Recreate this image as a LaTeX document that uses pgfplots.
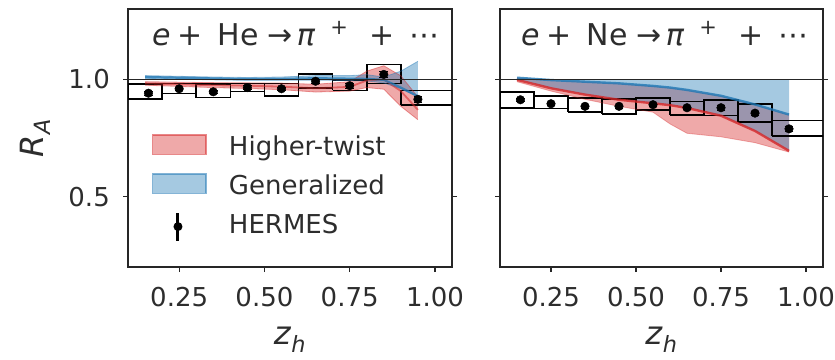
\documentclass[border=0pt]{standalone}
\usepackage{fontspec}
\setmainfont{DejaVu Sans}
\usepackage{pgfplots}
\usepackage{pgfplotstable}
\pgfplotsset{compat=1.18}
\usepgfplotslibrary{fillbetween}
\definecolor{tabblue}{RGB}{31,119,180}
\definecolor{tabred}{RGB}{214,39,40}
\definecolor{txt}{RGB}{45,45,45}

% HERMES points: z, R_A, stat error
\pgfplotstableread{
z y e
0.16 0.941 0.008
0.25 0.960 0.008
0.35 0.947 0.008
0.45 0.965 0.008
0.55 0.960 0.008
0.65 0.992 0.009
0.75 0.973 0.010
0.85 1.021 0.012
0.95 0.915 0.014
}\heData
\pgfplotstableread{
z y e
0.16 0.913 0.006
0.25 0.896 0.006
0.35 0.885 0.006
0.45 0.885 0.006
0.55 0.892 0.007
0.65 0.879 0.008
0.75 0.879 0.009
0.85 0.856 0.010
0.95 0.789 0.012
}\neData
% He bands: generalized (bu, bl, bc), higher-twist (ru, rl, rc)
\pgfplotstableread{
z bu bl bc ru rl rc
0.15 1.016 1.004 1.010 0.990 0.975 0.983
0.25 1.013 1.001 1.007 0.988 0.970 0.979
0.35 1.010 0.998 1.004 0.986 0.965 0.975
0.45 1.008 0.996 1.001 0.985 0.961 0.973
0.55 1.010 0.996 1.002 0.984 0.956 0.969
0.65 1.016 0.997 1.005 0.979 0.946 0.962
0.75 1.016 0.995 1.003 0.990 0.950 0.968
0.80 1.020 0.993 1.002 1.035 0.965 0.995
0.85 1.010 0.985 0.998 1.058 0.958 1.000
0.90 1.035 0.960 0.965 1.015 0.885 0.950
0.95 1.077 0.925 0.928 0.925 0.828 0.870
}\heBand
% Ne bands
\pgfplotstableread{
z bt bl rl rlo
0.15 1.007 1.007 0.998 0.990
0.25 1.000 0.997 0.962 0.950
0.35 1.000 0.990 0.935 0.915
0.45 1.000 0.983 0.913 0.885
0.55 1.000 0.972 0.898 0.860
0.60 1.000 0.965 0.890 0.810
0.65 1.000 0.955 0.878 0.770
0.75 1.000 0.930 0.845 0.755
0.85 1.000 0.893 0.780 0.730
0.95 1.000 0.850 0.695 0.690
}\neBand

\pgfplotsset{
  panel/.style={
    scale only axis, width=324pt, height=258pt,
    anchor=south west,
    xmin=0.1, xmax=1.05, ymin=0.2, ymax=1.3,
    xtick={0.25,0.5,0.75,1.0}, xticklabels={0.25,0.50,0.75,1.00},
    ytick={0.5,1.0},
    xtick pos=left, ytick pos=both,
    tick align=outside, major tick length=5pt,
    axis line style={black!85, line width=1.1pt},
    every tick/.style={black!85, line width=1.1pt},
    tick label style={font=\fontsize{26}{30}\selectfont, text=txt, inner sep=0pt},
    xticklabel style={yshift=-15pt},
    yticklabel style={xshift=-13pt},
    label style={font=\fontsize{32}{36}\selectfont, text=txt},
    unbounded coords=jump,
    line join=miter,
  },
  boxst/.style={black, line width=1.6pt, forget plot},
  pts/.style={only marks, mark=*, mark size=4.3pt, black, forget plot,
     error bars/.cd, y dir=both, y explicit, error bar style={line width=1.5pt}},
}
\newcommand{\reac}[1]{\textit{e}\hspace{7pt}+\hspace{15pt}#1\hspace{9pt}→\hspace{4pt}\textit{π}\hspace{15pt}\raisebox{11pt}{\fontsize{21}{21}\selectfont +}\hspace{22pt}+\hspace{14pt}⋯}

\begin{document}
\begin{tikzpicture}
% ---------------- He ----------------
\begin{axis}[panel, at={(128pt,92pt)},
  yticklabels={0.5,1.0},
  ylabel={\textit{R}\textsubscript{\textit{A}}},
  ylabel style={at={(axis description cs:-0.262,0.5)}, anchor=base},
  xlabel={\textit{z}\textsubscript{\textit{h}}},
  xlabel style={at={(axis description cs:0.5,-0.30)}, anchor=base},
  legend style={at={(axis description cs:0.074,0.519)}, anchor=north west,
    draw=none, fill=none, inner sep=0pt, outer sep=0pt, row sep=9pt,
    font=\fontsize{26}{30}\selectfont, text=txt,
    nodes={inner sep=0pt, text height=22pt, text depth=8pt},
    /tikz/every odd column/.append style={column sep=22pt}},
  legend cell align=left,
]
\addplot[boxst] coordinates {
(0.1,0.915) (0.2,0.915) (0.2,0.980) (0.1,0.980) (0.1,0.915) (nan,nan)
(0.2,0.940) (0.3,0.940) (0.3,0.982) (0.2,0.982) (0.2,0.940) (nan,nan)
(0.3,0.922) (0.4,0.922) (0.4,0.980) (0.3,0.980) (0.3,0.922) (nan,nan)
(0.4,0.949) (0.5,0.949) (0.5,0.982) (0.4,0.982) (0.4,0.949) (nan,nan)
(0.5,0.930) (0.6,0.930) (0.6,0.982) (0.5,0.982) (0.5,0.930) (nan,nan)
(0.6,0.962) (0.7,0.962) (0.7,1.024) (0.6,1.024) (0.6,0.962) (nan,nan)
(0.7,0.953) (0.8,0.953) (0.8,0.995) (0.7,0.995) (0.7,0.953) (nan,nan)
(0.8,0.982) (0.9,0.982) (0.9,1.064) (0.8,1.064) (0.8,0.982) (nan,nan)
(0.9,0.890) (1.1,0.890) (1.1,0.953) (0.9,0.953) (0.9,0.890)
};
\addplot[name path=heRu, tabred, draw opacity=0.45, line width=0.8pt, forget plot] table[x=z,y=ru] {\heBand};
\addplot[name path=heRl, tabred, draw opacity=0.45, line width=0.8pt, forget plot] table[x=z,y=rl] {\heBand};
\addplot[fill=tabred, fill opacity=0.4, draw=none, forget plot] fill between[of=heRu and heRl];
\addplot[name path=heBu, tabblue, draw opacity=0.45, line width=0.8pt, forget plot] table[x=z,y=bu] {\heBand};
\addplot[name path=heBl, tabblue, draw opacity=0.45, line width=0.8pt, forget plot] table[x=z,y=bl] {\heBand};
\addplot[fill=tabblue, fill opacity=0.4, draw=none, forget plot] fill between[of=heBu and heBl];
\addplot[tabred, line width=1.8pt, opacity=0.55, forget plot] table[x=z,y=rc] {\heBand};
\addplot[tabblue, line width=2.2pt, opacity=0.75, forget plot] table[x=z,y=bc] {\heBand};
\addplot[black!85, line width=1.2pt, forget plot] coordinates {(0,1) (1.2,1)};
\addplot[pts] table[x=z,y=y,y error=e] {\heData};
\addlegendimage{legend image code/.code={
  \path[draw=none, fill=none] (0pt,-15pt) rectangle (55pt,15pt);
  \path[fill=tabred, fill opacity=0.4, draw=tabred, draw opacity=0.55, line width=1.5pt] (0.75pt,-6.25pt) rectangle (54.25pt,13.25pt);}}
\addlegendentry{Higher-twist}
\addlegendimage{legend image code/.code={
  \path[draw=none, fill=none] (0pt,-15pt) rectangle (55pt,15pt);
  \path[fill=tabblue, fill opacity=0.4, draw=tabblue, draw opacity=0.55, line width=1.5pt] (0.75pt,-6.25pt) rectangle (54.25pt,13.25pt);}}
\addlegendentry{Generalized}
\addlegendimage{legend image code/.code={
  \path[draw=none, fill=none] (0pt,-15pt) rectangle (55pt,15pt);
  \path[draw=black, line width=3pt] (26pt,-14pt) -- (26pt,14pt);
  \path[fill=black, draw=none] (26pt,0pt) circle (4.5pt);}}
\addlegendentry{HERMES}
\node[anchor=base west, inner sep=0pt, font=\fontsize{30}{34}\selectfont, text=txt]
  at (rel axis cs:0.074,0.86) {\reac{He}};
\end{axis}
% ---------------- Ne ----------------
\begin{axis}[panel, at={(500pt,92pt)}, width=323pt,
  yticklabels={},
  xlabel={\textit{z}\textsubscript{\textit{h}}},
  xlabel style={at={(axis description cs:0.5,-0.30)}, anchor=base},
]
\addplot[boxst] coordinates {
(0.1,0.879) (0.2,0.879) (0.2,0.946) (0.1,0.946) (0.1,0.879) (nan,nan)
(0.2,0.875) (0.3,0.875) (0.3,0.929) (0.2,0.929) (0.2,0.875) (nan,nan)
(0.3,0.860) (0.4,0.860) (0.4,0.920) (0.3,0.920) (0.3,0.860) (nan,nan)
(0.4,0.853) (0.5,0.853) (0.5,0.915) (0.4,0.915) (0.4,0.853) (nan,nan)
(0.5,0.870) (0.6,0.870) (0.6,0.920) (0.5,0.920) (0.5,0.870) (nan,nan)
(0.6,0.849) (0.7,0.849) (0.7,0.906) (0.6,0.906) (0.6,0.849) (nan,nan)
(0.7,0.846) (0.8,0.846) (0.8,0.913) (0.7,0.913) (0.7,0.846) (nan,nan)
(0.8,0.818) (0.9,0.818) (0.9,0.896) (0.8,0.896) (0.8,0.818) (nan,nan)
(0.9,0.758) (1.1,0.758) (1.1,0.825) (0.9,0.825) (0.9,0.758)
};
\addplot[name path=neBt, draw=none, forget plot] table[x=z,y=bt] {\neBand};
\addplot[name path=neBl, draw=none, forget plot] table[x=z,y=bl] {\neBand};
\addplot[name path=neRl, draw=none, forget plot] table[x=z,y=rl] {\neBand};
\addplot[name path=neRlo, tabred, draw opacity=0.35, line width=0.8pt, forget plot] table[x=z,y=rlo] {\neBand};
\addplot[fill=tabred, fill opacity=0.4, draw=none, forget plot] fill between[of=neBl and neRlo];
\addplot[fill=tabblue, fill opacity=0.4, draw=none, forget plot] fill between[of=neBt and neRl];
\addplot[tabblue, line width=2.4pt, opacity=0.8, forget plot] table[x=z,y=bl] {\neBand};
\addplot[tabred, line width=2.4pt, opacity=0.8, forget plot] table[x=z,y=rl] {\neBand};
\addplot[black!85, line width=1.2pt, forget plot] coordinates {(0,1) (1.2,1)};
\addplot[pts] table[x=z,y=y,y error=e] {\neData};
\node[anchor=base west, inner sep=0pt, font=\fontsize{30}{34}\selectfont, text=txt]
  at (rel axis cs:0.065,0.86) {\reac{Ne}};
\end{axis}
\pgfresetboundingbox
\useasboundingbox (0,0) rectangle (835pt,359pt);
\end{tikzpicture}
\end{document}
